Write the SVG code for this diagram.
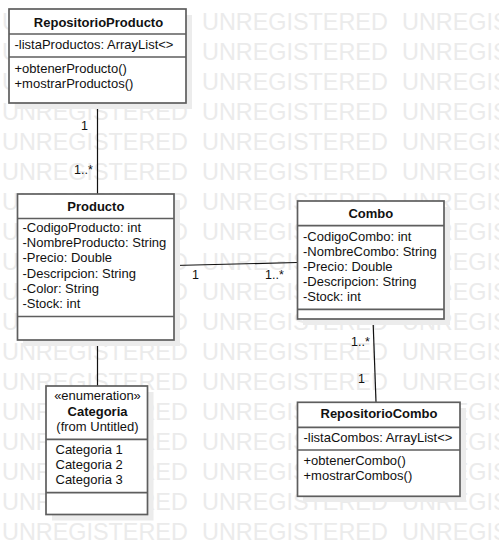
<svg xmlns="http://www.w3.org/2000/svg" xmlns:xlink="http://www.w3.org/1999/xlink" width="499" height="554" viewBox="0 0 499 554">
<style>
.wm{font-family:"Liberation Sans",Arial,sans-serif;font-size:23.4px;fill:#ebebeb}
.box{fill:#ffffff;stroke:#5e5e5e;stroke-width:1.7}
.sh{fill:#ececec}
.div{stroke:#5e5e5e;stroke-width:1.7}
.t{font-family:"Liberation Sans",Arial,sans-serif;font-size:13px;fill:#111111}
.b{font-weight:bold;text-anchor:middle}
.c{text-anchor:middle}
.ln{stroke:#111111;stroke-width:1.2;fill:none}
.lb{font-family:"Liberation Sans",Arial,sans-serif;font-size:12.5px;fill:#111111}
</style>
<defs>
<text id="wm" class="wm"><tspan x="2">UNREGISTERED</tspan><tspan x="202">UNREGISTERED</tspan><tspan x="402">UNREGISTERED</tspan></text>
</defs>
<rect width="499" height="554" fill="#ffffff"/>
<g id="watermark">
<use xlink:href="#wm" y="30"/><use xlink:href="#wm" y="60"/><use xlink:href="#wm" y="90"/><use xlink:href="#wm" y="120"/><use xlink:href="#wm" y="150"/><use xlink:href="#wm" y="180"/><use xlink:href="#wm" y="210"/><use xlink:href="#wm" y="240"/><use xlink:href="#wm" y="270"/><use xlink:href="#wm" y="300"/><use xlink:href="#wm" y="330"/><use xlink:href="#wm" y="360"/><use xlink:href="#wm" y="390"/><use xlink:href="#wm" y="420"/><use xlink:href="#wm" y="450"/><use xlink:href="#wm" y="480"/><use xlink:href="#wm" y="510"/><use xlink:href="#wm" y="540"/>
</g>
<g id="connectors">
<line class="ln" x1="97.5" y1="103" x2="97.5" y2="194"/>
<text class="lb" x="81" y="130">1</text>
<text class="lb" x="74" y="173.5">1..*</text>
<line class="ln" x1="97.5" y1="340" x2="97.5" y2="386"/>
<line class="ln" x1="174" y1="265.5" x2="297" y2="262.5"/>
<text class="lb" x="192" y="279">1</text>
<text class="lb" x="265" y="279">1..*</text>
<line class="ln" x1="373" y1="319" x2="376" y2="402"/>
<text class="lb" x="351" y="346">1..*</text>
<text class="lb" x="358" y="382.5">1</text>
</g>
<g id="RepositorioProducto">
<rect class="sh" x="15" y="15" width="177" height="94"/>
<rect class="box" x="9" y="9" width="177" height="94"/>
<line class="div" x1="9" y1="34" x2="186" y2="34"/>
<line class="div" x1="9" y1="57" x2="186" y2="57"/>
<text class="t b" x="98.5" y="26.5">RepositorioProducto</text>
<text class="t" x="14.5" y="49">-listaProductos: ArrayList&lt;&gt;</text>
<text class="t" x="14.5" y="72.5">+obtenerProducto()</text>
<text class="t" x="14.5" y="87.5">+mostrarProductos()</text>
</g>
<g id="Producto">
<rect class="sh" x="23" y="200" width="157" height="146"/>
<rect class="box" x="17.5" y="194" width="156.5" height="146"/>
<line class="div" x1="17.5" y1="218.5" x2="174" y2="218.5"/>
<line class="div" x1="17.5" y1="316.5" x2="174" y2="316.5"/>
<text class="t b" x="95.8" y="210.5">Producto</text>
<text class="t" x="22.5" y="231.7">-CodigoProducto: int</text>
<text class="t" x="22.5" y="247">-NombreProducto: String</text>
<text class="t" x="22.5" y="262.3">-Precio: Double</text>
<text class="t" x="22.5" y="277.6">-Descripcion: String</text>
<text class="t" x="22.5" y="292.9">-Color: String</text>
<text class="t" x="22.5" y="308.2">-Stock: int</text>
</g>
<g id="Combo">
<rect class="sh" x="303" y="207" width="147" height="118"/>
<rect class="box" x="297.5" y="201" width="146.5" height="118"/>
<line class="div" x1="297.5" y1="225.7" x2="444" y2="225.7"/>
<line class="div" x1="297.5" y1="309.3" x2="444" y2="309.3"/>
<text class="t b" x="370.8" y="218.3">Combo</text>
<text class="t" x="303" y="240.7">-CodigoCombo: int</text>
<text class="t" x="303" y="256">-NombreCombo: String</text>
<text class="t" x="303" y="271">-Precio: Double</text>
<text class="t" x="303" y="286">-Descripcion: String</text>
<text class="t" x="303" y="301">-Stock: int</text>
</g>
<g id="Categoria">
<rect class="sh" x="52" y="392" width="101.5" height="128.5"/>
<rect class="box" x="46" y="386" width="101.5" height="128.5"/>
<line class="div" x1="46" y1="439.3" x2="147.5" y2="439.3"/>
<line class="div" x1="46" y1="492.7" x2="147.5" y2="492.7"/>
<text class="t c" x="97.5" y="400">«enumeration»</text>
<text class="t b" x="97.5" y="415.5">Categoria</text>
<text class="t c" x="97.5" y="430.5">(from Untitled)</text>
<text class="t" x="55.5" y="454">Categoria 1</text>
<text class="t" x="55.5" y="469">Categoria 2</text>
<text class="t" x="55.5" y="484">Categoria 3</text>
</g>
<g id="RepositorioCombo">
<rect class="sh" x="303" y="408" width="163" height="94"/>
<rect class="box" x="297.5" y="402.3" width="162.5" height="94"/>
<line class="div" x1="297.5" y1="427.3" x2="460" y2="427.3"/>
<line class="div" x1="297.5" y1="450" x2="460" y2="450"/>
<text class="t b" x="379" y="418.3">RepositorioCombo</text>
<text class="t" x="303.5" y="441.7">-listaCombos: ArrayList&lt;&gt;</text>
<text class="t" x="303.5" y="465">+obtenerCombo()</text>
<text class="t" x="303.5" y="480">+mostrarCombos()</text>
</g>
</svg>
